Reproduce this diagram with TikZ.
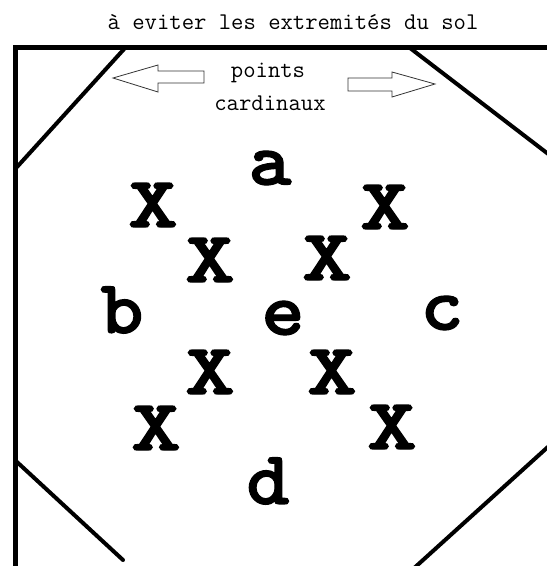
\documentclass[tikz,border=0pt]{standalone}
\usepackage{fontspec}
\newfontfamily\heavymono{lmmonolt10-bold.otf}[FakeBold=1.5,FakeStretch=1.08]
\newfontfamily\widemono{lmmonolt10-bold.otf}[FakeBold=2,FakeStretch=1.32]
\tikzset{
  frame/.style={line width=5pt, line join=miter},
  diag/.style={line width=4pt, line cap=round},
  hollowarrow/.style={draw=black!80, line width=0.8pt, fill=white},
  caption/.style={inner sep=0pt, font=\ttfamily\fontsize{24}{28}\selectfont},
  letter/.style={inner sep=0pt, font=\heavymono\fontsize{76}{80}\selectfont},
  cross/.style={inner sep=0pt, font=\widemono\fontsize{72}{76}\selectfont},
}
\begin{document}
\begin{tikzpicture}[x=1pt,y=-1pt]
\useasboundingbox (0,0) rectangle (547,566);
\fill[white] (0,0) rectangle (547,566);
\clip (0,0) rectangle (547,566);
% frame
\draw[frame] (15,600) -- (15,47) -- (600,47);
% corner diagonals
\draw[diag] (125,48) -- (17,167);
\draw[diag] (410,48) -- (560,163);
\draw[diag] (17,462) -- (123,560);
\draw[diag] (560,436) -- (412,570);
% hollow arrows
\draw[hollowarrow] (113,78) -- (158,65) -- (158,71) -- (204,71) -- (204,83) -- (158,83) -- (158,92) -- cycle;
\draw[hollowarrow] (348,78) -- (392,78) -- (392,72) -- (435,84) -- (392,97) -- (392,91) -- (348,91) -- cycle;
% texts
\node[caption] (title) at (293,22) {à eviter les extremités du sol};
\node[caption] (pts) at (268,73) {points};
\node[caption] (card) at (270,103) {cardinaux};
% letters
\node[letter] (a) at (270,168) {a};
\node[letter] (b) at (122,310) {b};
\node[letter] (e) at (283,318) {e};
\node[letter] (c) at (442,313) {c};
\node[letter] (d) at (268,481) {d};
% crosses
\node[cross] (x1) at (153,205) {X};
\node[cross] (x2) at (385,207) {X};
\node[cross] (x3) at (210,260) {X};
\node[cross] (x4) at (327,258) {X};
\node[cross] (x5) at (210,372) {X};
\node[cross] (x6) at (332,372) {X};
\node[cross] (x7) at (156,428) {X};
\node[cross] (x8) at (392,427) {X};
\end{tikzpicture}
\end{document}
